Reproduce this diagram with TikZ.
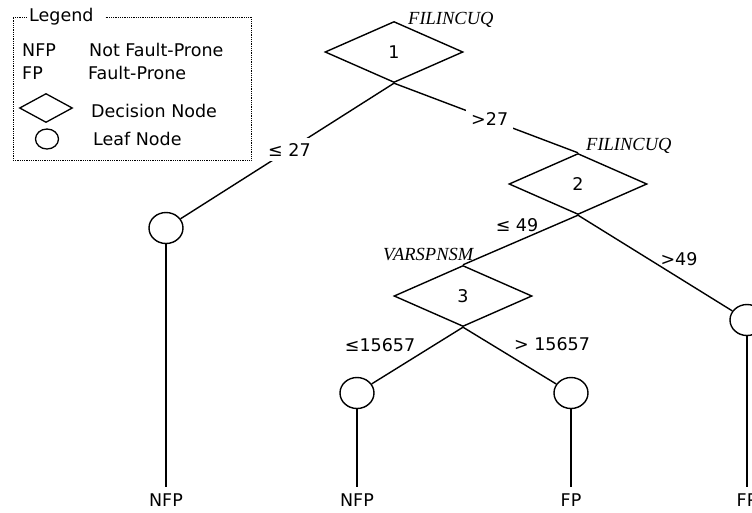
\documentclass[tikz,border=0pt]{standalone}
\usepackage{fontspec}
\setmainfont{DejaVu Sans}
\newfontfamily\attrfont{Liberation Serif}
\usepackage{tikz}
\usetikzlibrary{shapes.geometric, positioning, calc}

\tikzset{
  decision/.style={diamond, draw, line width=1.4pt, minimum width=138pt, minimum height=61pt, inner sep=0pt},
  leaf/.style={ellipse, draw, line width=1.4pt, minimum width=34pt, minimum height=31pt, inner sep=0pt},
  branch/.style={line width=1.4pt},
  cut/.style={fill=white, inner sep=5pt},
  cond/.style={inner sep=0pt},
  attr/.style={font=\attrfont\itshape\fontsize{18.5}{20}\selectfont, inner sep=0pt, anchor=base west},
  outcome/.style={inner sep=6.5pt},
  legtext/.style={anchor=west, inner sep=0pt}
}

\begin{document}
\begin{tikzpicture}[x=1pt, y=-1pt, font=\fontsize{17.5}{21}\selectfont]
  \useasboundingbox (0,0) rectangle (752,512);
  \clip (0,0) rectangle (752,512);

  % legend
  \node[legtext] (legtitle) at (29,17) {Legend};
  \draw[densely dotted, line width=0.8pt] ($(legtitle.east)+(12,0)$) -- (251,17) -- (251,160) -- (13,160) -- (13,17) -- ($(legtitle.west)+(-2,0)$);
  \node[legtext] (kNFP) at (22,50) {NFP};
  \node[legtext] (tNFP) at (89,50) {Not Fault-Prone};
  \node[legtext] (kFP) at (22,73) {FP};
  \node[legtext] (tFP) at (88,73) {Fault-Prone};
  \node[diamond, draw, line width=1.3pt, minimum width=53pt, minimum height=29pt, inner sep=0pt] (kdec) at (46,108) {};
  \node[legtext] (tdec) at (91,111) {Decision Node};
  \node[ellipse, draw, line width=1.3pt, minimum width=23pt, minimum height=20pt, inner sep=0pt] (kleaf) at (47,139) {};
  \node[legtext] (tleaf) at (93,139) {Leaf Node};

  % tree
  \node[decision] (d1) at (394,52) {1};
  \node[decision] (d2) at (578,184) {2};
  \node[decision] (d3) at (463,296) {3};
  \node[attr] (a1) at (408,24) {FILINCUQ};
  \node[attr] (a2) at (586,150) {FILINCUQ};
  \node[attr] (a3) at (383,260) {VARSPNSM};

  \node[leaf] (f1) at (166,228) {};
  \node[leaf] (f2) at (357,393) {};
  \node[leaf] (f3) at (571,393) {};
  \node[leaf] (f4) at (747,320) {};

  \node[outcome] (o1) at (166,500) {NFP};
  \node[outcome] (o2) at (357,500) {NFP};
  \node[outcome] (o3) at (571,500) {FP};
  \node[outcome] (o4) at (747,500) {FP};

  \draw[branch] (d1.south) -- node[cut, pos=0.49] (c1) {≤ 27} (f1);
  \draw[branch] (d1.south) -- node[cut, pos=0.52] (c2) {>27} (d2.north);
  \draw[branch] (d2.south) -- (d3.north);
  \draw[branch] (d2.south) -- (f4);
  \draw[branch] (d3.south) -- (f2);
  \draw[branch] (d3.south) -- (f3);
  \node[cond] (c3) at (517,225) {≤ 49};
  \node[cond] (c4) at (679,259) {>49};
  \node[cond] (c5) at (380,345) {≤15657};
  \node[cond] (c6) at (552,344) {> 15657};

  \draw[branch] (f1) -- (o1);
  \draw[branch] (f2) -- (o2);
  \draw[branch] (f3) -- (o3);
  \draw[branch] (f4) -- (o4);
\end{tikzpicture}
\end{document}
